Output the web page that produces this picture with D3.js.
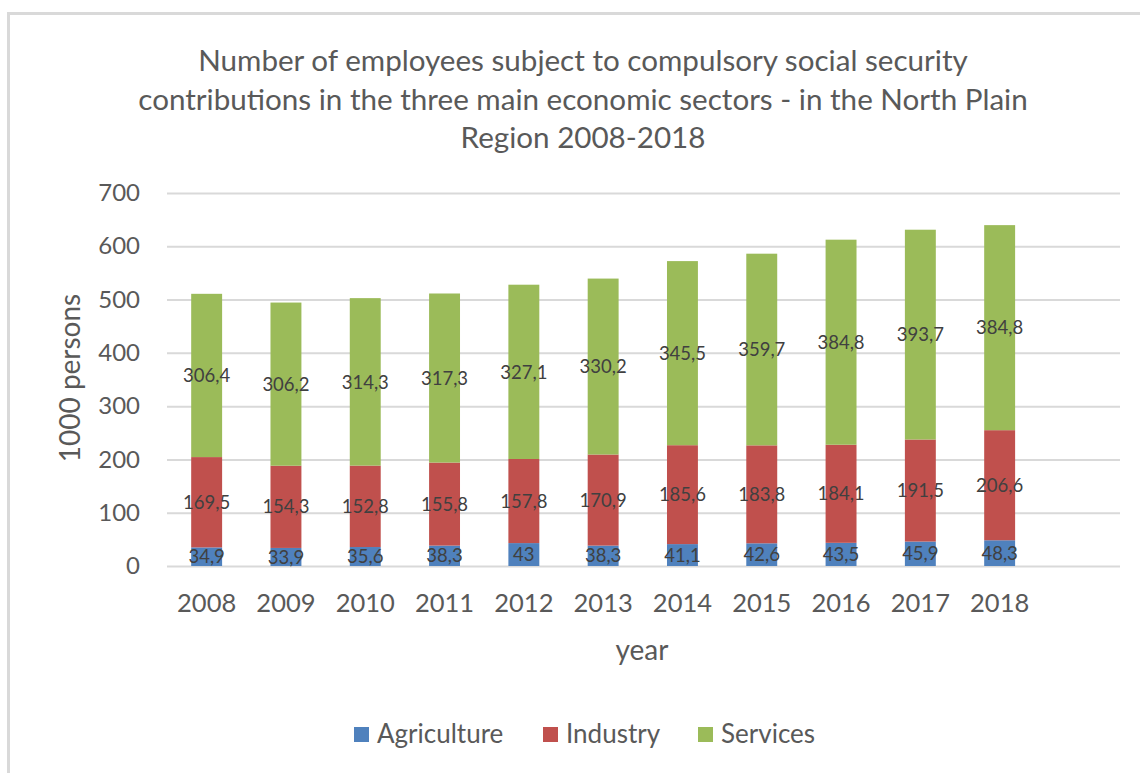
<!DOCTYPE html>
<html>
<head>
<meta charset="utf-8">
<script src="https://cdn.jsdelivr.net/npm/d3@7"></script>
<style>
  html, body { margin: 0; padding: 0; background: #fff; }
  svg { display: block; font-family: Lato, "Open Sans", sans-serif; }
</style>
</head>
<body>
<svg id="chart" width="1140" height="773"></svg>
<script>
// Employees (thousand persons) by main economic sector, North Plain Region
const years = ["2008","2009","2010","2011","2012","2013","2014","2015","2016","2017","2018"];
const agriculture = [34.9, 33.9, 35.6, 38.3, 43, 38.3, 41.1, 42.6, 43.5, 45.9, 48.3];
const industry    = [169.5, 154.3, 152.8, 155.8, 157.8, 170.9, 185.6, 183.8, 184.1, 191.5, 206.6];
const services    = [306.4, 306.2, 314.3, 317.3, 327.1, 330.2, 345.5, 359.7, 384.8, 393.7, 384.8];
const seriesNames = ["Agriculture", "Industry", "Services"];
const yTicks = [0, 100, 200, 300, 400, 500, 600, 700];
const titleLines = [
  "Number of employees subject to compulsory social security",
  "contributions in the three main economic sectors - in the North Plain",
  "Region 2008-2018"
];

const colors = { Agriculture: "#4f81bd", Industry: "#c0504d", Services: "#9bbb59" };
const textGray = "#595959";

const rows = years.map((y, i) => ({
  year: y, Agriculture: agriculture[i], Industry: industry[i], Services: services[i]
}));

const svg = d3.select("#chart");

// outer chart frame
svg.append("rect")
  .attr("x", 8.5).attr("y", 13.5)
  .attr("width", 1200).attr("height", 800)
  .attr("fill", "#fff").attr("stroke", "#d9d9d9").attr("stroke-width", 3);

const plotLeft = 167, plotRight = 1120, plotTop = 193, plotBottom = 566;
const step = 79.3;

const x = d3.scaleBand()
  .domain(years)
  .range([plotLeft, plotLeft + step * years.length])
  .paddingInner(0.61)
  .paddingOuter(0.305);

const y = d3.scaleLinear().domain([0, 700]).range([plotBottom, plotTop]);

// gridlines + y tick labels
const yAxis = d3.axisLeft(y)
  .tickValues(yTicks)
  .tickSize(-(plotRight - plotLeft))
  .tickPadding(27)
  .tickFormat(d3.format("d"));

const gy = svg.append("g").attr("transform", `translate(${plotLeft},0)`).call(yAxis);
gy.select(".domain").remove();
gy.selectAll(".tick line").attr("stroke", "#d9d9d9").attr("stroke-width", 2);
gy.selectAll(".tick text")
  .attr("fill", textGray).attr("font-size", 24).attr("font-family", "Lato");

// stacked bars
const stack = d3.stack().keys(seriesNames);
const layers = stack(rows);

const g = svg.append("g");
layers.forEach(layer => {
  g.selectAll(null)
    .data(layer)
    .join("rect")
    .attr("x", d => x(d.data.year))
    .attr("width", x.bandwidth())
    .attr("y", d => y(d[1]))
    .attr("height", d => y(d[0]) - y(d[1]))
    .attr("fill", colors[layer.key]);
});

// value labels centred in each segment
const fmt = v => String(v).replace(".", ",");
layers.forEach(layer => {
  g.selectAll(null)
    .data(layer)
    .join("text")
    .attr("x", d => x(d.data.year) + x.bandwidth() / 2)
    .attr("y", d => (y(d[0]) + y(d[1])) / 2)
    .attr("dy", "0.36em")
    .attr("text-anchor", "middle")
    .attr("font-size", 18.5)
    .attr("fill", "#404040")
    .text(d => fmt(d.data[layer.key]));
});

// x axis labels
const xAxis = d3.axisBottom(x).tickSize(0).tickPadding(28);
const gx = svg.append("g").attr("transform", `translate(0,${plotBottom})`).call(xAxis);
gx.select(".domain").remove();
gx.selectAll(".tick text")
  .attr("fill", textGray).attr("font-size", 25.5).attr("font-family", "Lato");

// axis titles
svg.append("text")
  .attr("x", 642).attr("y", 660)
  .attr("text-anchor", "middle")
  .attr("font-size", 28).attr("fill", textGray)
  .text("year");

svg.append("text")
  .attr("transform", "translate(80,378) rotate(-90)")
  .attr("text-anchor", "middle")
  .attr("font-size", 28).attr("fill", textGray)
  .text("1000 persons");

// chart title
svg.append("g").selectAll("text")
  .data(titleLines)
  .join("text")
  .attr("x", 583)
  .attr("y", (d, i) => 71 + i * 38.5)
  .attr("text-anchor", "middle")
  .attr("font-size", 29.6)
  .attr("fill", textGray)
  .text(d => d);

// legend
const legendItems = [
  { name: "Agriculture", x: 354 },
  { name: "Industry", x: 543 },
  { name: "Services", x: 698 }
];
const lg = svg.append("g");
legendItems.forEach(item => {
  lg.append("rect")
    .attr("x", item.x).attr("y", 727)
    .attr("width", 15).attr("height", 15)
    .attr("fill", colors[item.name]);
  lg.append("text")
    .attr("x", item.x + 23).attr("y", 743)
    .attr("font-size", 26).attr("fill", textGray)
    .text(item.name);
});
</script>
</body>
</html>
